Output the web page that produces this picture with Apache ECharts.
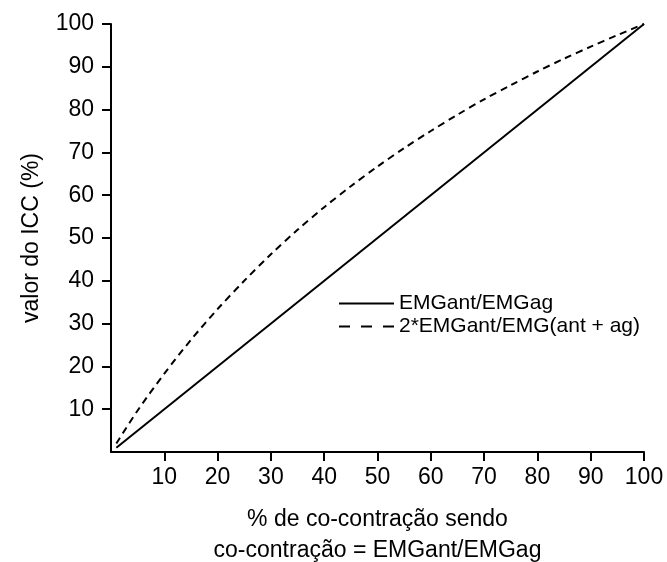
<!DOCTYPE html>
<html><head><meta charset="utf-8">
<script src="https://cdn.jsdelivr.net/npm/echarts@6/dist/echarts.min.js"></script>
<style>html,body{margin:0;padding:0;background:#fff}#c{width:667px;height:562px}</style>
</head><body><div id="c"></div>
<script>
var seriesNames = ['EMGant/EMGag', '2*EMGant/EMG(ant + ag)'];
var xTicks = [10, 20, 30, 40, 50, 60, 70, 80, 90, 100];
var yTicks = [10, 20, 30, 40, 50, 60, 70, 80, 90, 100];
var solidX = [1, 100];
var solidY = [1, 100];
var dashedX = [1, 5, 10, 15, 20, 25, 30, 35, 40, 45, 50, 55, 60, 65, 70, 75, 80, 85, 90, 95, 100];
var dashedY = [2, 9.7, 18.3, 26.2, 33.4, 40.0, 46.2, 51.9, 57.2, 62.1, 66.7, 71.0, 75.0, 78.8, 82.4, 85.7, 88.9, 91.9, 94.7, 97.4, 100];

function pairs(xs, ys) { return xs.map(function (x, i) { return [x, ys[i]]; }); }

var font = 'Liberation Sans, Arial, sans-serif';
var chart = echarts.init(document.getElementById('c'));
chart.setOption({
  animation: false,
  backgroundColor: '#fff',
  grid: { left: 111, right: 23, top: 24, bottom: 110, containLabel: false, outerBoundsMode: 'none' },
  xAxis: {
    type: 'value', min: 0, max: 100, interval: 10,
    name: '% de co-contração sendo\nco-contração = EMGant/EMGag',
    nameLocation: 'middle', nameGap: 52,
    nameTextStyle: { fontFamily: font, fontSize: 23, color: '#000', lineHeight: 31 },
    axisLine: { show: true, lineStyle: { color: '#000', width: 2 } },
    axisTick: { show: true, length: 9, customValues: xTicks, lineStyle: { color: '#000', width: 2 } },
    axisLabel: {
      fontFamily: font, fontSize: 23, color: '#000', margin: 14,
      customValues: xTicks
    },
    splitLine: { show: false }
  },
  yAxis: {
    type: 'value', min: 0, max: 100, interval: 10,
    name: 'valor do ICC (%)',
    nameLocation: 'middle', nameGap: 68,
    nameTextStyle: { fontFamily: font, fontSize: 23, color: '#000' },
    axisLine: { show: true, lineStyle: { color: '#000', width: 2 } },
    axisTick: { show: true, length: 9, customValues: yTicks, lineStyle: { color: '#000', width: 2 } },
    axisLabel: {
      fontFamily: font, fontSize: 23, color: '#000', margin: 17,
      customValues: yTicks
    },
    splitLine: { show: false }
  },
  legend: {
    orient: 'vertical', left: 338, top: 293, padding: 0,
    itemWidth: 55, itemHeight: 14, itemGap: 2,
    itemStyle: { opacity: 0 },
    textStyle: { fontFamily: font, fontSize: 21, color: '#000' },
    data: [
      { name: seriesNames[0] },
      { name: seriesNames[1], lineStyle: { type: [11, 11] } }
    ]
  },
  series: [
    {
      name: seriesNames[0], type: 'line', symbol: 'none',
      data: pairs(solidX, solidY),
      lineStyle: { color: '#000', width: 2, type: 'solid' },
      itemStyle: { color: '#000' }
    },
    {
      name: seriesNames[1], type: 'line', symbol: 'none', smooth: 0.3,
      data: pairs(dashedX, dashedY),
      lineStyle: { color: '#000', width: 2, type: [7, 5] },
      itemStyle: { color: '#000' }
    }
  ]
});
</script></body></html>
